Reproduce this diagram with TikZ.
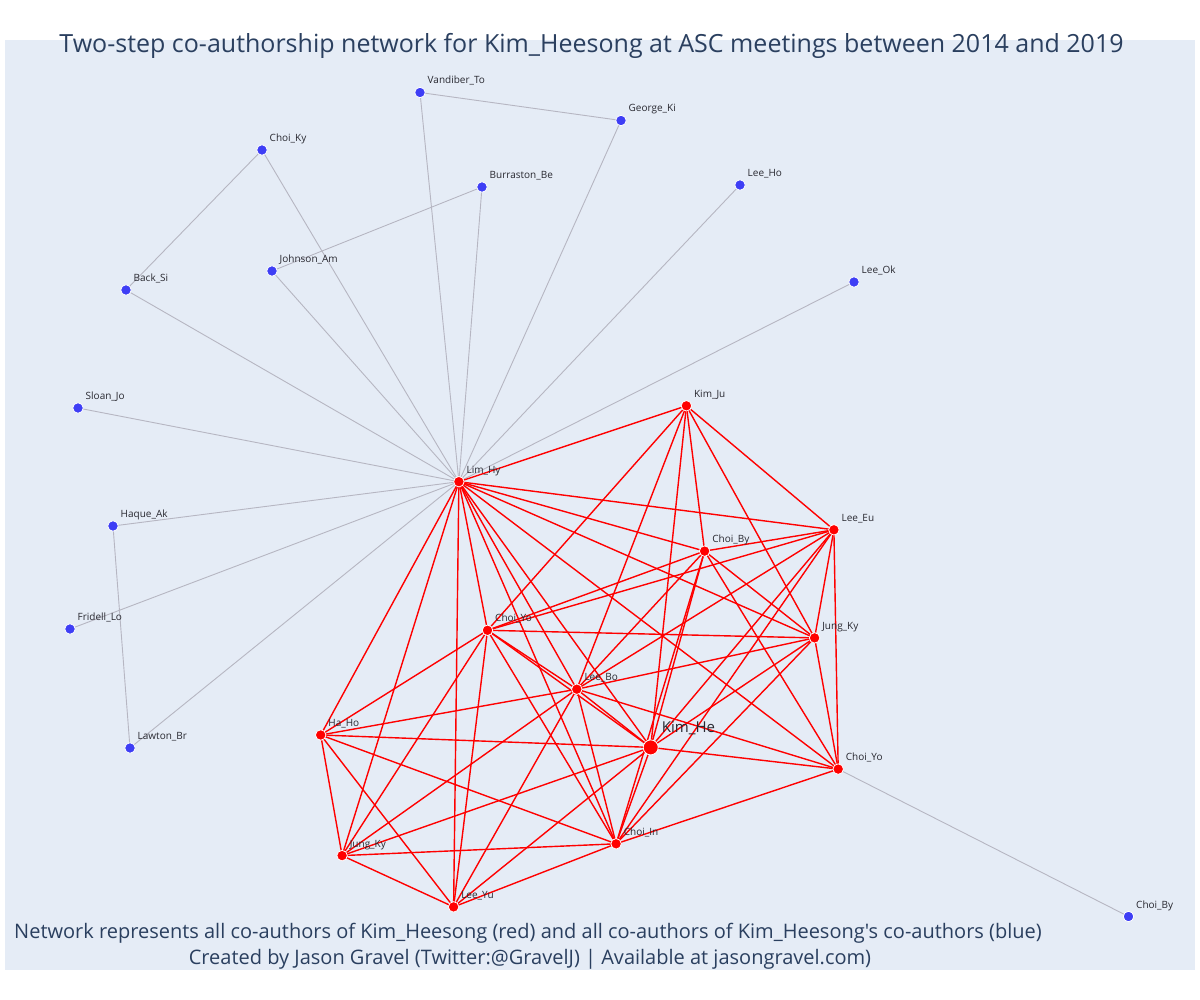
\documentclass[tikz,border=0pt]{standalone}
\usepackage{fontspec}
\setmainfont{Open Sans}[Ligatures=TeXOff]
\definecolor{bgplot}{HTML}{E5ECF6}
\definecolor{titlecol}{HTML}{2A3F5F}
\definecolor{nodered}{RGB}{255,0,0}
\definecolor{nodeblue}{RGB}{62,62,245}
\definecolor{edgegrey}{RGB}{182,182,194}
\definecolor{labelcol}{RGB}{40,40,48}
\pgfdeclarelayer{bglayer}
\pgfdeclarelayer{edgelayer}
\pgfsetlayers{bglayer,edgelayer,main}
\tikzset{
  rnode/.style={circle, fill=nodered, draw=white, line width=0.8pt, minimum size=10.5pt, inner sep=0pt},
  bignode/.style={rnode, minimum size=15pt},
  bnode/.style={circle, fill=nodeblue, draw=white, line width=0.8pt, minimum size=10.5pt, inner sep=0pt},
  redge/.style={draw=nodered, line width=1.4pt},
  gedge/.style={draw=edgegrey, line width=0.9pt},
  lbl/.style={font=\fontsize{10}{12}\selectfont, text=labelcol, anchor=base west, inner sep=0pt},
  biglbl/.style={lbl, font=\fontsize{15}{18}\selectfont},
  titletext/.style={font=\fontsize{25}{29}\selectfont, text=titlecol, anchor=base, inner sep=0pt},
  foottext/.style={font=\fontsize{20}{24}\selectfont, text=titlecol, anchor=base, inner sep=0pt},
}
\begin{document}
\begin{tikzpicture}[x=1pt,y=-1pt]
\begin{pgfonlayer}{bglayer}
\fill[white] (0,0) rectangle (1200,1000);
\fill[bgplot] (5,40) rectangle (1195,970);
\end{pgfonlayer}
\useasboundingbox (0,0) rectangle (1200,1000);

% red nodes
\node[bignode] (he) at (650.7,747.4) {};
\node[rnode] (lh) at (458.9,481.7) {};
\node[rnode] (kj) at (686.4,405.8) {};
\node[rnode] (le) at (833.9,529.8) {};
\node[rnode] (cb) at (704.6,551.1) {};
\node[rnode] (jr) at (814.6,637.9) {};
\node[rnode] (cm) at (487.5,630.3) {};
\node[rnode] (lb) at (576.8,689.2) {};
\node[rnode] (hh) at (320.7,735.0) {};
\node[rnode] (jl) at (342.1,855.6) {};
\node[rnode] (ly) at (453.6,906.9) {};
\node[rnode] (ci) at (616.1,843.8) {};
\node[rnode] (cr) at (838.2,769.1) {};

% blue nodes
\node[bnode] (vt) at (420,92.5) {};
\node[bnode] (gk) at (621,120.5) {};
\node[bnode] (ck) at (262,150) {};
\node[bnode] (bb) at (482,187) {};
\node[bnode] (lho) at (740,185) {};
\node[bnode] (ja) at (272,271) {};
\node[bnode] (bs) at (126,290) {};
\node[bnode] (lok) at (854,282) {};
\node[bnode] (sj) at (78,408) {};
\node[bnode] (ha) at (113,526) {};
\node[bnode] (fl) at (70,629) {};
\node[bnode] (lw) at (130,748) {};
\node[bnode] (cbb) at (1128.5,916.5) {};

\begin{pgfonlayer}{edgelayer}
\foreach \a/\b in {lh/vt, lh/gk, lh/ck, lh/bb, lh/ja, lh/bs, lh/sj, lh/ha, lh/fl, lh/lw, lh/lho, lh/lok, vt/gk, ck/bs, bb/ja, ha/lw, cr/cbb}
  \draw[gedge] (\a.center) -- (\b.center);
\foreach \a/\b in {he/lh, he/kj, he/le, he/cb, he/jr, he/cm, he/lb, lh/kj, lh/le, lh/cb, lh/jr, lh/cm, lh/lb, kj/le, kj/cb, kj/jr, kj/cm, kj/lb, le/cb, le/jr, le/cm, le/lb, cb/jr, cb/cm, cb/lb, jr/cm, jr/lb, cm/lb,
  hh/he, hh/lh, hh/cm, hh/lb, hh/jl, hh/ly, hh/ci, jl/he, jl/lh, jl/cm, jl/lb, jl/ly, jl/ci, ly/he, ly/lh, ly/cm, ly/lb, ly/ci, ci/he, ci/lh, ci/cm, ci/lb,
  cr/he, cr/lh, cr/le, cr/cb, cr/jr, cr/ci, cr/lb, ci/le, ci/cb, ci/jr}
  \draw[redge] (\a.center) -- (\b.center);
\end{pgfonlayer}

% labels
\node[biglbl] (t-he) at ([shift={(11,-14.5)}]he.center) {Kim\_He};
\foreach \n/\t in {lh/Lim\_Hy, kj/Kim\_Ju, le/Lee\_Eu, cb/Choi\_By, jr/Jung\_Ky, cm/Choi\_Yo, lb/Lee\_Bo, hh/Ha\_Ho, jl/Jung\_Ky, ly/Lee\_Yu, ci/Choi\_In, cr/Choi\_Yo,
  vt/Vandiber\_To, gk/George\_Ki, ck/Choi\_Ky, bb/Burraston\_Be, lho/Lee\_Ho, ja/Johnson\_Am, bs/Back\_Si, lok/Lee\_Ok, sj/Sloan\_Jo, ha/Haque\_Ak, fl/Fridell\_Lo, lw/Lawton\_Br, cbb/Choi\_By}
  \node[lbl] (t-\n) at ([shift={(7.5,-8.5)}]\n.center) {\t};

\node[titletext] (title) at (591.5,52.5) {Two-step co-authorship network for Kim\_Heesong at ASC meetings between 2014 and 2019};
\node[foottext] (foot1) at (528,938) {Network represents all co-authors of Kim\_Heesong (red) and all co-authors of Kim\_Heesong's co-authors (blue)};
\node[foottext] (foot2) at (530,964.5) {Created by Jason Gravel (Twitter:@GravelJ) | Available at jasongravel.com)};
\end{tikzpicture}
\end{document}
